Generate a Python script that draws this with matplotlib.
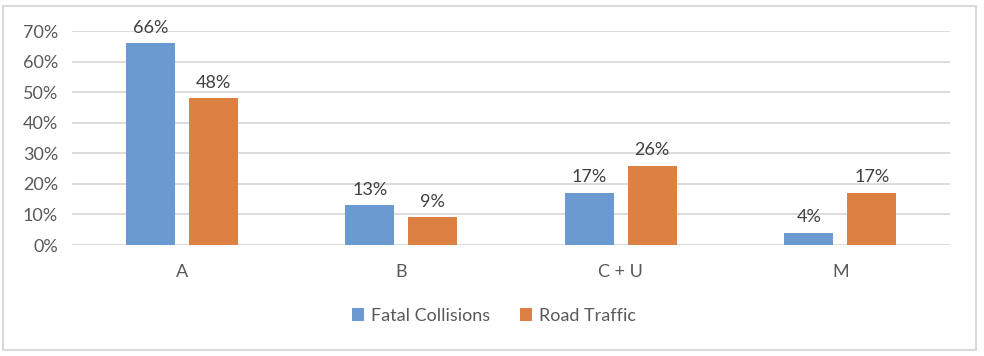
import numpy as np
import matplotlib.pyplot as plt
from matplotlib.patches import Rectangle

categories = ["A", "B", "C + U", "M"]
fatal = [66, 13, 17, 4]
traffic = [48, 9, 26, 17]
yticks = [0, 10, 20, 30, 40, 50, 60, 70]

plt.rcParams['font.family'] = ['Lato', 'DejaVu Sans']

fig = plt.figure(figsize=(9.84, 3.56), dpi=100)
ax = fig.add_axes([72 / 984, 1 - 245 / 356, (950 - 72) / 984, (245 - 31) / 356])

x = np.arange(len(categories))
w = 0.223
off = 0.1435
b1 = ax.bar(x - off, fatal, w, color="#6A9AD0", label="Fatal Collisions", zorder=3)
b2 = ax.bar(x + off, traffic, w, color="#DD8044", label="Road Traffic", zorder=3)

for bars, vals in ((b1, fatal), (b2, traffic)):
    for r, v in zip(bars, vals):
        ax.text(r.get_x() + r.get_width() / 2, v + 2.5, f"{v}%", ha="center",
                va="bottom", fontsize=13, color="#404040")

ax.set_xlim(-0.5, len(categories) - 0.5)
ax.set_ylim(0, 70)
ax.set_yticks(yticks)
ax.set_yticklabels([f"{t}%" for t in yticks], fontsize=13, color="#595959")
ax.set_xticks(x)
ax.set_xticklabels(categories, fontsize=13, color="#595959")
ax.tick_params(length=0)
ax.tick_params(axis="x", pad=14)
ax.tick_params(axis="y", pad=10)
ax.grid(axis="y", color="#D9D9D9", linewidth=1.3, zorder=0)
for s in ax.spines.values():
    s.set_visible(False)

fig.legend(handles=[b1, b2], loc="center", bbox_to_anchor=(494 / 984, 1 - 316 / 356),
           ncol=2, frameon=False, fontsize=13, labelcolor="#595959",
           handlelength=0.7, handleheight=0.7, columnspacing=1.6, handletextpad=0.4)

fig.patches.append(Rectangle((3 / 984, 1 - 350 / 356), 973 / 984, 344 / 356,
                             transform=fig.transFigure, fill=False,
                             edgecolor="#D9D9D9", linewidth=1.5))

fig.savefig("out.png", dpi=100)
